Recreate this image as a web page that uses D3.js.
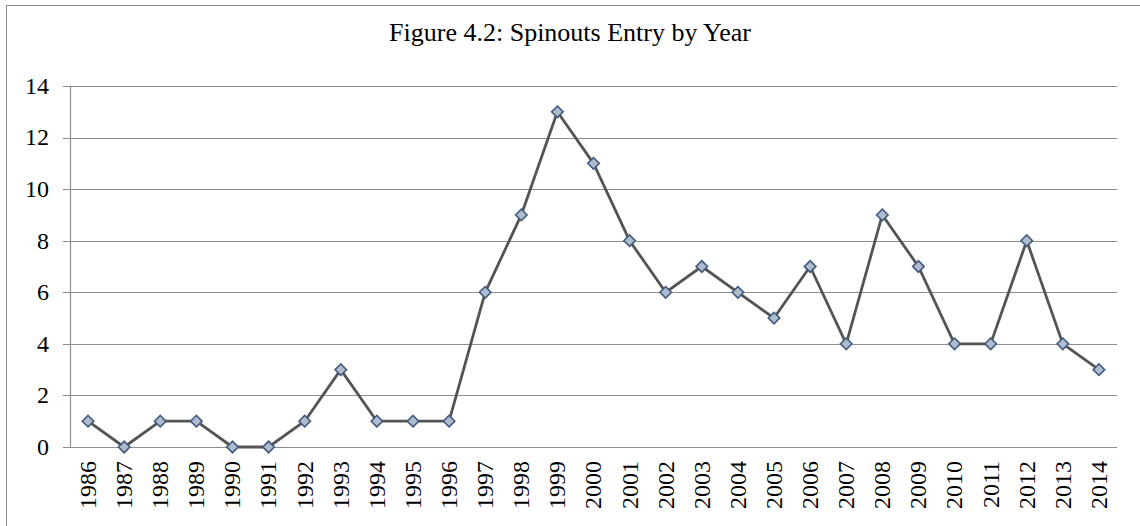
<!DOCTYPE html>
<html>
<head>
<meta charset="utf-8">
<script src="https://cdn.jsdelivr.net/npm/d3@7"></script>
<style>
  html, body { margin: 0; padding: 0; background: #fff; overflow: hidden; }
  svg { display: block; }
</style>
</head>
<body>
<svg id="chart" width="1140" height="526"></svg>
<script>
// Spinout firms entering per year
const years = ["1986","1987","1988","1989","1990","1991","1992","1993","1994","1995",
               "1996","1997","1998","1999","2000","2001","2002","2003","2004","2005",
               "2006","2007","2008","2009","2010","2011","2012","2013","2014"];
const entries = [1,0,1,1,0,0,1,3,1,1,1,6,9,13,11,8,6,7,6,5,7,4,9,7,4,4,8,4,3];
const yTicks = [0,2,4,6,8,10,12,14];
const title = "Figure 4.2: Spinouts Entry by Year";

const svg = d3.select("#chart");
const plot = { left: 70, right: 1117, top: 86, bottom: 447 };
const font = "'Liberation Serif', 'Times New Roman', Times, serif";

// Chart frame
svg.append("rect")
  .attr("x", 6.5).attr("y", 5.5)
  .attr("width", 1140).attr("height", 540)
  .attr("fill", "#fff").attr("stroke", "#8c8c8c").attr("stroke-width", 1);

const x = d3.scaleBand().domain(years).range([plot.left, plot.right]);
const y = d3.scaleLinear().domain([0, 14]).range([plot.bottom, plot.top]);
const cx = d => x(d) + x.bandwidth() / 2;

// Horizontal gridlines with short outward ticks
svg.append("g").selectAll("line").data(yTicks).join("line")
  .attr("x1", plot.left - 7).attr("x2", plot.right)
  .attr("y1", d => Math.round(y(d)) + 0.5).attr("y2", d => Math.round(y(d)) + 0.5)
  .attr("stroke", "#8e8e8e").attr("stroke-width", 1.2);

// Value axis line
svg.append("line")
  .attr("x1", plot.left + 0.5).attr("x2", plot.left + 0.5)
  .attr("y1", plot.top).attr("y2", plot.bottom)
  .attr("stroke", "#8e8e8e").attr("stroke-width", 1.2);

// Y tick labels
svg.append("g").selectAll("text").data(yTicks).join("text")
  .attr("x", 49).attr("y", d => y(d))
  .attr("dy", "0.33em")
  .attr("text-anchor", "end")
  .attr("font-family", font).attr("font-size", 24).attr("fill", "#000")
  .text(d => d);

// X tick labels, rotated
svg.append("g").selectAll("text").data(years).join("text")
  .attr("transform", d => `translate(${cx(d)},${plot.bottom + 14}) rotate(-90)`)
  .attr("dy", "0.33em")
  .attr("text-anchor", "end")
  .attr("font-family", font).attr("font-size", 24).attr("fill", "#000")
  .text(d => d);

const pts = years.map((yr, i) => ({ yr, v: entries[i] }));

// Series line
svg.append("path")
  .datum(pts)
  .attr("fill", "none")
  .attr("stroke", "#545454")
  .attr("stroke-width", 2.8)
  .attr("stroke-linejoin", "round")
  .attr("d", d3.line().x(d => cx(d.yr)).y(d => y(d.v)));

// Diamond markers
const diamond = d3.symbol().type(d3.symbolSquare).size(66);
svg.append("g").selectAll("path").data(pts).join("path")
  .attr("transform", d => `translate(${cx(d.yr)},${y(d.v)}) rotate(45)`)
  .attr("d", diamond)
  .attr("fill", "#aebccf")
  .attr("stroke", "#435b7d")
  .attr("stroke-width", 1.6);

// Title
svg.append("text")
  .attr("x", 570).attr("y", 41)
  .attr("text-anchor", "middle")
  .attr("font-family", font).attr("font-size", 26).attr("fill", "#000")
  .text(title);
</script>
</body>
</html>
